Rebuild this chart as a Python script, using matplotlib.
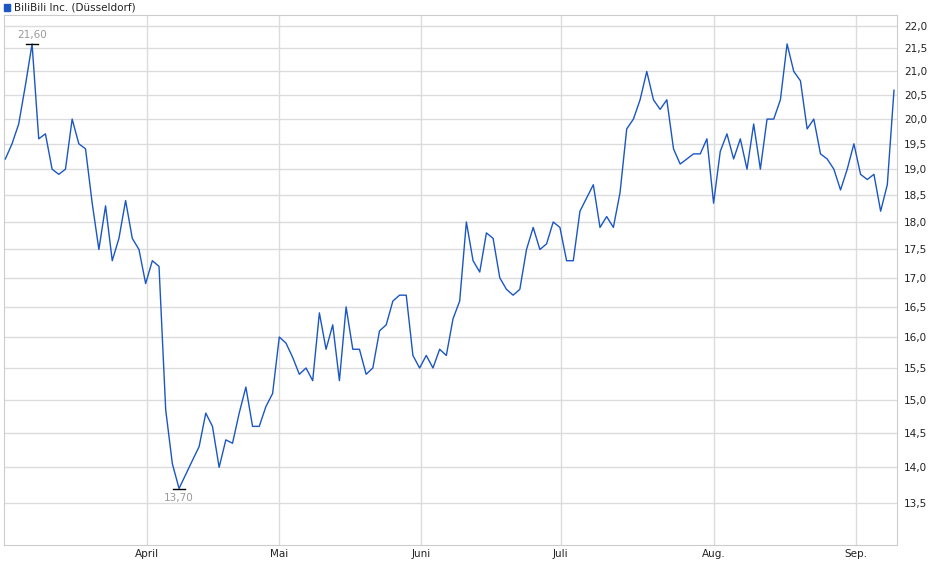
import matplotlib
matplotlib.use("Agg")
import matplotlib.pyplot as plt
from matplotlib.ticker import FixedLocator, NullLocator, FixedFormatter
import numpy as np

prices = [19.2, 19.5, 19.9, 20.7, 21.6, 19.6, 19.7, 19.0, 18.9, 19.0,
          20.0, 19.5, 19.4, 18.35, 17.5, 18.3, 17.3, 17.7, 18.4, 17.7,
          17.5, 16.9, 17.3, 17.2, 14.85, 14.05, 13.7, 13.9, 14.1, 14.3,
          14.8, 14.6, 14.0, 14.4, 14.35, 14.8, 15.2, 14.6, 14.6, 14.9,
          15.1, 16.0, 15.9, 15.67, 15.4, 15.5, 15.3, 16.4, 15.8, 16.2,
          15.3, 16.5, 15.8, 15.8, 15.4, 15.5, 16.1, 16.2, 16.6, 16.7,
          16.7, 15.7, 15.5, 15.7, 15.5, 15.8, 15.7, 16.3, 16.6, 18.0,
          17.3, 17.1, 17.8, 17.7, 17.0, 16.8, 16.7, 16.8, 17.5, 17.9,
          17.5, 17.6, 18.0, 17.9, 17.3, 17.3, 18.2, 18.45, 18.7, 17.9,
          18.1, 17.9, 18.55, 19.8, 20.0, 20.4, 21.0, 20.4, 20.2, 20.4,
          19.4, 19.1, 19.2, 19.3, 19.3, 19.6, 18.35, 19.35, 19.7, 19.2,
          19.6, 19.0, 19.9, 19.0, 20.0, 20.0, 20.4, 21.6, 21.0, 20.8,
          19.8, 20.0, 19.3, 19.2, 19.0, 18.6, 19.0, 19.5, 18.9, 18.8,
          18.9, 18.2, 18.7, 20.6]
month_labels = ["April", "Mai", "Juni", "Juli", "Aug.", "Sep."]
month_pos = [21.2, 41.0, 62.2, 83.1, 106.1, 127.3]
y_ticks = [13.5, 14.0, 14.5, 15.0, 15.5, 16.0, 16.5, 17.0, 17.5, 18.0,
           18.5, 19.0, 19.5, 20.0, 20.5, 21.0, 21.5, 22.0]
title = "BiliBili Inc. (Düsseldorf)"

x = np.arange(len(prices))
fig = plt.figure(figsize=(9.4, 5.79), dpi=100)
ax = fig.add_axes([4/940, 1 - 545/579, 893/940, 530/579])
ax.plot(x, prices, color="#1a56c4", lw=1.0, zorder=3)
ax.set_yscale("log")
ax.set_ylim(12.93, 22.25)
ax.set_xlim(-0.2, 133.45)
ax.yaxis.set_major_locator(FixedLocator(y_ticks))
ax.yaxis.set_major_formatter(FixedFormatter([f"{v:.1f}".replace(".", ",") for v in y_ticks]))
ax.yaxis.set_minor_locator(NullLocator())
ax.yaxis.tick_right()
ax.set_xticks(month_pos)
ax.set_xticklabels(month_labels)
ax.tick_params(axis="both", length=0, labelsize=7.5, colors="#222222")
ax.tick_params(axis="y", pad=5)
ax.tick_params(axis="x", pad=3)
ax.grid(True, color="#dcdcdc", lw=1.0)
for s in ax.spines.values():
    s.set_color("#cccccc")

imax = int(np.argmax(prices)); imin = int(np.argmin(prices))
for i, off, va in [(imax, 3, "bottom"), (imin, -3, "top")]:
    ax.plot([i - 0.9, i + 0.9], [prices[i]] * 2, color="black", lw=1, zorder=4)
    ax.annotate(f"{prices[i]:.2f}".replace(".", ","), (i, prices[i]),
                xytext=(0, off), textcoords="offset points", ha="center", va=va,
                fontsize=7.5, color="#999999")

fig.patches.append(plt.Rectangle((4/940, 1 - 11/579), 6/940, 7/579,
                                 transform=fig.transFigure, color="#1a56c4", figure=fig))
fig.text(14/940, 1 - 7.5/579, title, fontsize=7.5, va="center", ha="left", color="#222222")
fig.savefig("out.png", dpi=100)
